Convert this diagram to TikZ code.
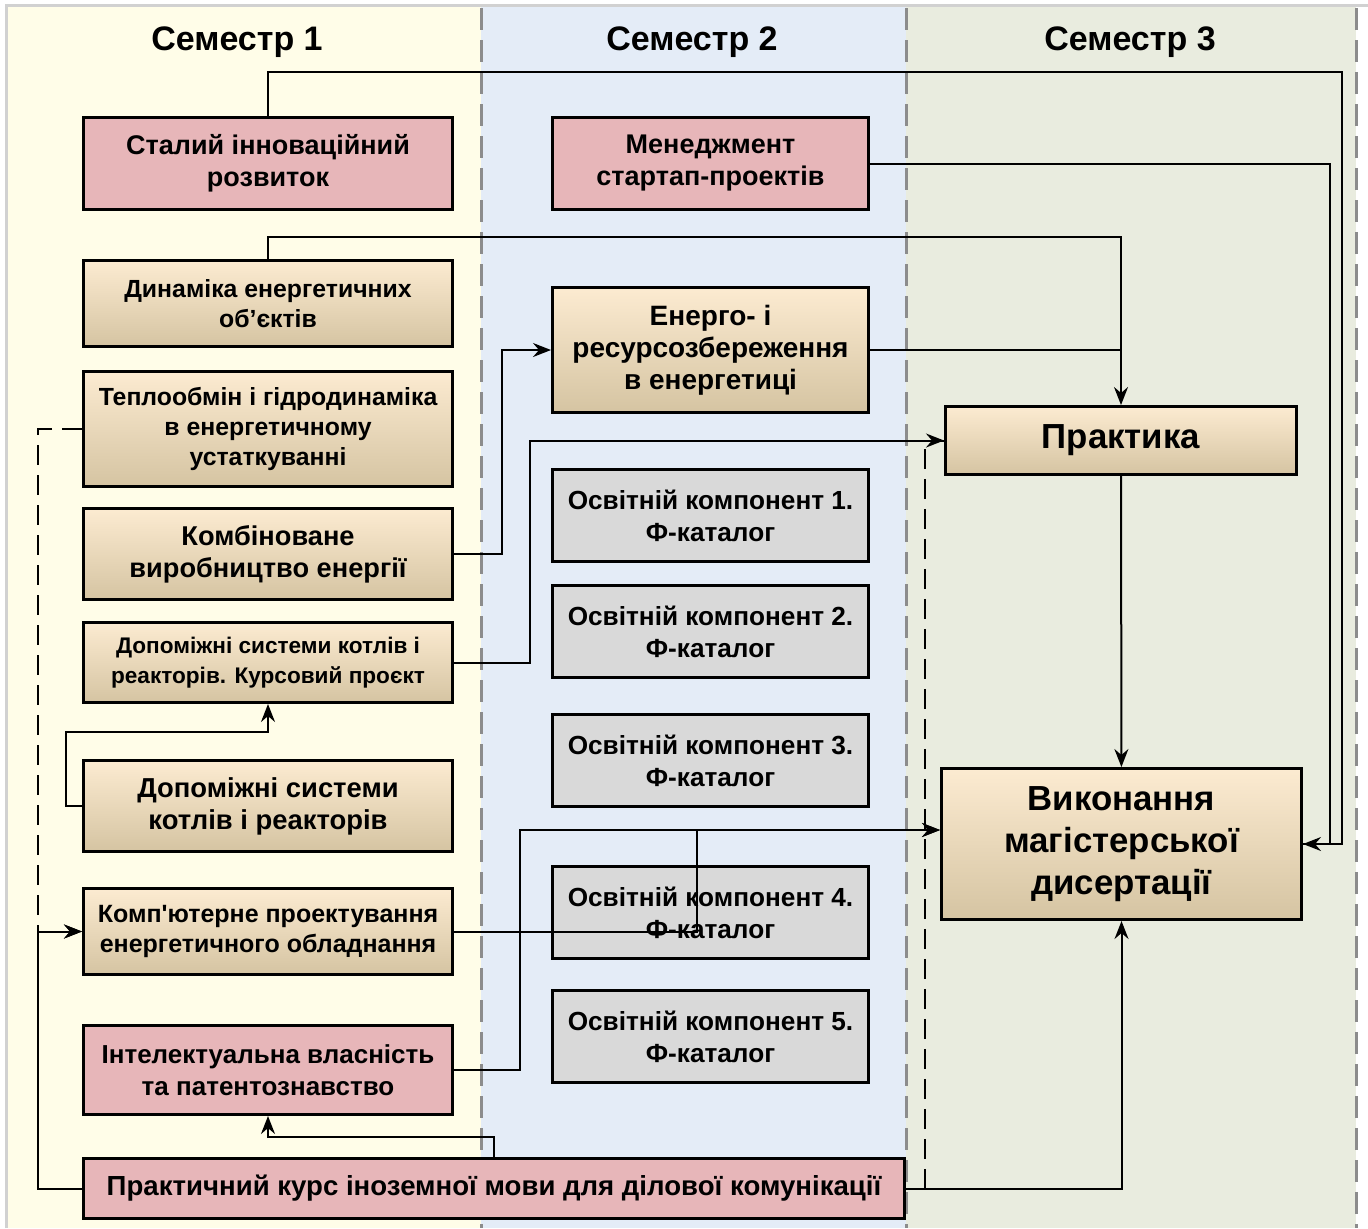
\documentclass[tikz,border=0pt]{standalone}
\usepackage{fontspec}
\setmainfont{Liberation Sans}
\usetikzlibrary{arrows.meta, positioning, calc}

\definecolor{semOne}{HTML}{FFFDE8}
\definecolor{semTwo}{HTML}{E4ECF7}
\definecolor{semThree}{HTML}{E9ECDF}
\definecolor{pinkFill}{HTML}{E7B6B9}
\definecolor{greyFill}{HTML}{D9D9D9}
\definecolor{beigeTop}{HTML}{FCEBD1}
\definecolor{beigeMid}{HTML}{F3E2C6}
\definecolor{beigeBot}{HTML}{D5C4A2}
\definecolor{divGrey}{HTML}{8C8C8C}

\begin{document}
\begin{tikzpicture}[
        x=0.5pt, y=-0.5pt,
        node distance=10pt,
        block/.style={rectangle, draw, line width=1.5pt, align=center, inner sep=2pt,
                      font=\fontsize{13.5}{16}\selectfont\bfseries},
        pinkbox/.style={block, fill=pinkFill},
        beigebox/.style={block, top color=beigeTop, middle color=beigeMid, bottom color=beigeBot},
        greybox/.style={block, fill=greyFill, font=\fontsize{13.1}{16}\selectfont\bfseries},
        colone/.style={minimum width=184.5pt},
        coltwo/.style={minimum width=158pt},
        semtitle/.style={font=\fontsize{17}{20}\selectfont\bfseries},
        divider/.style={divGrey, line width=1.5pt, dash pattern=on 11pt off 5pt},
        line/.style={line width=1pt},
        arrow/.style={line, -{Stealth[length=9pt, width=7pt, inset=3pt]}},
        dashline/.style={dash pattern=on 10pt off 5pt}
    ]
        % background columns
        \useasboundingbox (0,0) rectangle (1368,1228);
        \fill[white] (0,0) rectangle (1368,1228);
        \fill[semOne] (6,6) rectangle (481,1228);
        \fill[semTwo] (481,6) rectangle (906,1228);
        \fill[semThree] (906,6) rectangle (1356,1228);
        \draw[black!18, line width=1.5pt] (6,1228) -- (6,5) -- (1368,5);
        \draw[divider] (481,8) -- (481,1228);
        \draw[divider] (906,8) -- (906,1228);
        \draw[divider] (1356,8) -- (1356,1228);

        \node[semtitle] (s1) at (237,42) {Семестр 1};
        \node[semtitle] (s2) at (692,42) {Семестр 2};
        \node[semtitle] (s3) at (1130,42) {Семестр 3};

        % semester 1
        \node[pinkbox, colone, minimum height=46pt] (sir) at (268,163.5) {Сталий інноваційний\\розвиток};
        \node[beigebox, colone, minimum height=43pt, below=24pt of sir, font=\fontsize{12.4}{15}\selectfont\bfseries] (dyn) {Динаміка енергетичних\\об’єктів};
        \node[beigebox, colone, minimum height=57.5pt, below=11pt of dyn, font=\fontsize{12.4}{15}\selectfont\bfseries] (teplo) {Теплообмін і гідродинаміка\\в енергетичному\\устаткуванні};
        \node[beigebox, colone, minimum height=45.5pt, below=9.5pt of teplo, font=\fontsize{13.6}{16}\selectfont\bfseries] (komb) {Комбіноване\\виробництво енергії};
        \node[beigebox, colone, minimum height=40pt, below=of komb, font=\fontsize{11.3}{15}\selectfont\bfseries] (dopkp) {Допоміжні системи котлів і\\реакторів. Курсовий проєкт};
        \node[beigebox, colone, minimum height=45.5pt, below=27.5pt of dopkp, font=\fontsize{13.7}{16}\selectfont\bfseries] (dops) {Допоміжні системи\\котлів і реакторів};
        \node[beigebox, colone, minimum height=43pt, below=17pt of dops, font=\fontsize{12.5}{15}\selectfont\bfseries] (komp) {Комп\textquotesingle ютерне проектування\\енергетичного обладнання};
        \node[pinkbox, colone, minimum height=44.5pt, below=24pt of komp, font=\fontsize{13}{16}\selectfont\bfseries] (intel) {Інтелектуальна власність\\та патентознавство};
        \node[pinkbox, minimum width=410.5pt, minimum height=30pt, font=\fontsize{13.8}{16}\selectfont\bfseries] (kurs) at (494,1188.5) {Практичний курс іноземної мови для ділової комунікації};

        % semester 2
        \node[pinkbox, coltwo, minimum height=46pt] (men) at (710.5,163.5) {Менеджмент\\стартап-проектів};
        \node[beigebox, coltwo, minimum height=62.5pt, below=37.5pt of men, font=\fontsize{14}{16}\selectfont\bfseries] (energo) {Енерго- і\\ресурсозбереження\\в енергетиці};
        \node[greybox, coltwo, minimum height=46pt, below=27pt of energo] (ok1) {Освітній компонент 1.\\Ф-каталог};
        \node[greybox, coltwo, minimum height=46pt, below=10.5pt of ok1] (ok2) {Освітній компонент 2.\\Ф-каталог};
        \node[greybox, coltwo, minimum height=46pt, below=17pt of ok2] (ok3) {Освітній компонент 3.\\Ф-каталог};
        \node[greybox, coltwo, minimum height=46pt, below=28.5pt of ok3] (ok4) {Освітній компонент 4.\\Ф-каталог};
        \node[greybox, coltwo, minimum height=46pt, below=14.5pt of ok4] (ok5) {Освітній компонент 5.\\Ф-каталог};

        % semester 3
        \node[beigebox, minimum width=175.5pt, minimum height=34pt, font=\fontsize{17.4}{20}\selectfont\bfseries] (prak) at (1121,440.5) {Практика};
        \node[beigebox, minimum width=180pt, minimum height=75.5pt, font=\fontsize{17.4}{21}\selectfont\bfseries] (vyk) at (1121.5,844) {Виконання\\магістерської\\дисертації};

        \coordinate (outA) at (1342,72);
        \coordinate (outB) at (1330,844);
        \coordinate (vin) at ($(vyk.west)+(0,-14)$);

        \draw[arrow] (sir.north) |- (outA) |- (vyk.east);
        \draw[line] (men.east) -| (outB) -- (vyk.east);
        \draw[arrow] (dyn.north) -- ++(0,-22) -| (prak.north);
        \draw[line] (energo.east) -- (energo.east -| prak.north);
        \draw[arrow] (komb.east) -- ++(48,0) |- (energo.west);
        \draw[arrow] (dopkp.east) -- ++(76,0) |- (prak.west);
        \draw[arrow] (prak) -- (vyk);
        \draw[arrow] (dops.west) -- ++(-16,0) |- ($(dopkp.south)+(0,28)$) -- (dopkp.south);
        \draw[arrow, dashline] (teplo.west) -- ++(-44,0) |- (komp.west);
        \draw[arrow] (kurs.west) -- ++(-44,0) |- (komp.west);
        \draw[arrow] (komp.east) -| ($(vin)+(-243,0)$) -- (vin);
        \draw[arrow] (intel.east) -| ($(vin)+(-420,0)$) -- (vin);
        \draw[arrow] (kurs.north) -- ++(0,-20) -| (intel.south);
        \draw[arrow] (kurs.east) -| (vyk.south);
        \draw[line, dashline] ($(kurs.east)+(19,0)$) |- (prak.west);
    \end{tikzpicture}
\end{document}
